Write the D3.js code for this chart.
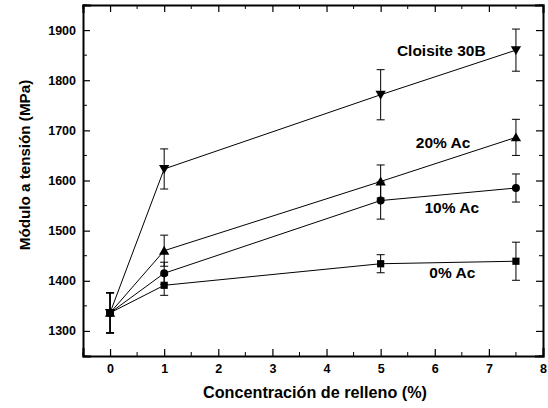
<!DOCTYPE html>
<html>
<head>
<meta charset="utf-8">
<script src="https://cdn.jsdelivr.net/npm/d3@7"></script>
<style>
  body { margin: 0; background: #fff; }
  svg { font-family: "Liberation Sans", Arial, sans-serif; font-weight: bold; }
</style>
</head>
<body>
<div id="container"></div>
<script>
const concentrations = [0, 1, 5, 7.5];

const seriesNames = ["0% Ac", "10% Ac", "20% Ac", "Cloisite 30B"];
const seriesSymbols = ["square", "circle", "triangleUp", "triangleDown"];

const ac0Values = [1336, 1391, 1434, 1439];
const ac0Errors = [40, 20, 18, 38];

const ac10Values = [1336, 1415, 1560, 1585];
const ac10Errors = [40, 22, 37, 28];

const ac20Values = [1336, 1460, 1598, 1686];
const ac20Errors = [40, 31, 33, 36];

const cloisiteValues = [1336, 1623, 1771, 1860];
const cloisiteErrors = [40, 40, 50, 42];

// label anchor (x in %, y in MPa)
const labelPositions = [[5.9, 1416], [5.81, 1547], [5.65, 1675], [5.3, 1860]];

const xTicks = [0, 1, 2, 3, 4, 5, 6, 7, 8];
const yTicks = [1300, 1400, 1500, 1600, 1700, 1800, 1900];

const w = 548;
const h = 408;
const paddingLeft = 83;
const paddingRight = 5;
const paddingTop = 5;
const paddingBottom = 52;

const xScale = d3.scaleLinear()
  .domain([-0.5, 8])
  .range([paddingLeft, w - paddingRight]);

const yScale = d3.scaleLinear()
  .domain([1250, 1950])
  .range([h - paddingBottom, paddingTop]);

const svg = d3.select("#container")
  .append("svg")
  .attr("width", w)
  .attr("height", h);

const series = [
  { values: ac0Values, errors: ac0Errors },
  { values: ac10Values, errors: ac10Errors },
  { values: ac20Values, errors: ac20Errors },
  { values: cloisiteValues, errors: cloisiteErrors }
];

const symbolTypes = {
  square: d3.symbolSquare,
  circle: d3.symbolCircle,
  triangleUp: d3.symbolTriangle,
  triangleDown: d3.symbolTriangle
};
const symbolSizes = { square: 52, circle: 50, triangleUp: 46, triangleDown: 46 };

const line = d3.line()
  .x(d => xScale(d.x))
  .y(d => yScale(d.y));

series.forEach((s, si) => {
  const points = concentrations.map((c, i) => ({ x: c, y: s.values[i], e: s.errors[i] }));
  const g = svg.append("g");

  g.append("path")
    .datum(points)
    .attr("d", line)
    .attr("fill", "none")
    .attr("stroke", "#000")
    .attr("stroke-width", 1);

  const bars = g.selectAll(".err")
    .data(points)
    .enter()
    .append("g");
  bars.append("line")
    .attr("x1", d => xScale(d.x))
    .attr("x2", d => xScale(d.x))
    .attr("y1", d => yScale(d.y + d.e))
    .attr("y2", d => yScale(d.y - d.e))
    .attr("stroke", "#000")
    .attr("stroke-width", 1);
  [1, -1].forEach(sign => {
    bars.append("line")
      .attr("x1", d => xScale(d.x) - 4)
      .attr("x2", d => xScale(d.x) + 4)
      .attr("y1", d => yScale(d.y + sign * d.e))
      .attr("y2", d => yScale(d.y + sign * d.e))
      .attr("stroke", "#000")
      .attr("stroke-width", 1);
  });

  const sym = seriesSymbols[si];
  g.selectAll(".pt")
    .data(points)
    .enter()
    .append("path")
    .attr("d", d3.symbol().type(symbolTypes[sym]).size(symbolSizes[sym]))
    .attr("transform", d => `translate(${xScale(d.x)},${yScale(d.y) + (sym === "triangleDown" ? -1 : sym === "triangleUp" ? 1 : 0)})${sym === "triangleDown" ? "rotate(180)" : ""}`)
    .attr("fill", "#000");

  g.append("text")
    .text(seriesNames[si])
    .attr("x", xScale(labelPositions[si][0]))
    .attr("y", yScale(labelPositions[si][1]))
    .attr("dy", "0.35em")
    .style("font-size", "15.5px");
});

// axes: ticks inside on all four sides
const minorX = d3.range(-0.5, 8.01, 0.5).filter(v => !Number.isInteger(v));
const minorY = d3.range(1250, 1951, 50).filter(v => v % 100 !== 0);

const bottomAxis = svg.append("g").attr("transform", `translate(0,${h - paddingBottom})`);
bottomAxis.call(d3.axisBottom(xScale).tickValues(xTicks).tickSize(-7).tickPadding(8).tickFormat(d3.format("d")));
bottomAxis.call(g => g.selectAll(".minor").data(minorX).enter().append("line").attr("class", "minor")
  .attr("x1", d => xScale(d)).attr("x2", d => xScale(d)).attr("y1", 0).attr("y2", -4).attr("stroke", "#000"));

const leftAxis = svg.append("g").attr("transform", `translate(${paddingLeft},0)`);
leftAxis.call(d3.axisLeft(yScale).tickValues(yTicks).tickSize(-7).tickPadding(7).tickFormat(d3.format("d")));
leftAxis.call(g => g.selectAll(".minor").data(minorY).enter().append("line").attr("class", "minor")
  .attr("y1", d => yScale(d)).attr("y2", d => yScale(d)).attr("x1", 0).attr("x2", 4).attr("stroke", "#000"));

const topAxis = svg.append("g").attr("transform", `translate(0,${paddingTop})`);
topAxis.call(d3.axisTop(xScale).tickValues(xTicks).tickSize(-7).tickFormat(""));
topAxis.call(g => g.selectAll(".minor").data(minorX).enter().append("line").attr("class", "minor")
  .attr("x1", d => xScale(d)).attr("x2", d => xScale(d)).attr("y1", 0).attr("y2", 4).attr("stroke", "#000"));

const rightAxis = svg.append("g").attr("transform", `translate(${w - paddingRight},0)`);
rightAxis.call(d3.axisRight(yScale).tickValues(yTicks).tickSize(-7).tickFormat(""));
rightAxis.call(g => g.selectAll(".minor").data(minorY).enter().append("line").attr("class", "minor")
  .attr("y1", d => yScale(d)).attr("y2", d => yScale(d)).attr("x1", 0).attr("x2", -4).attr("stroke", "#000"));

svg.selectAll(".domain").attr("stroke-width", 2).attr("stroke-linecap", "square");
svg.selectAll(".tick line").attr("stroke-width", 1.2);
svg.selectAll(".tick text")
  .style("font-size", "12.5px")
  .style("font-family", "'Liberation Sans', Arial, sans-serif")
  .style("font-weight", "bold")
  .attr("fill", "#000");

svg.append("text")
  .text("Concentración de relleno (%)")
  .attr("x", 315)
  .attr("y", 398)
  .attr("text-anchor", "middle")
  .style("font-size", "16.2px");

svg.append("text")
  .text("Módulo a tensión (MPa)")
  .attr("transform", `translate(30,165)rotate(-90)`)
  .attr("text-anchor", "middle")
  .style("font-size", "15.2px");
</script>
</body>
</html>
